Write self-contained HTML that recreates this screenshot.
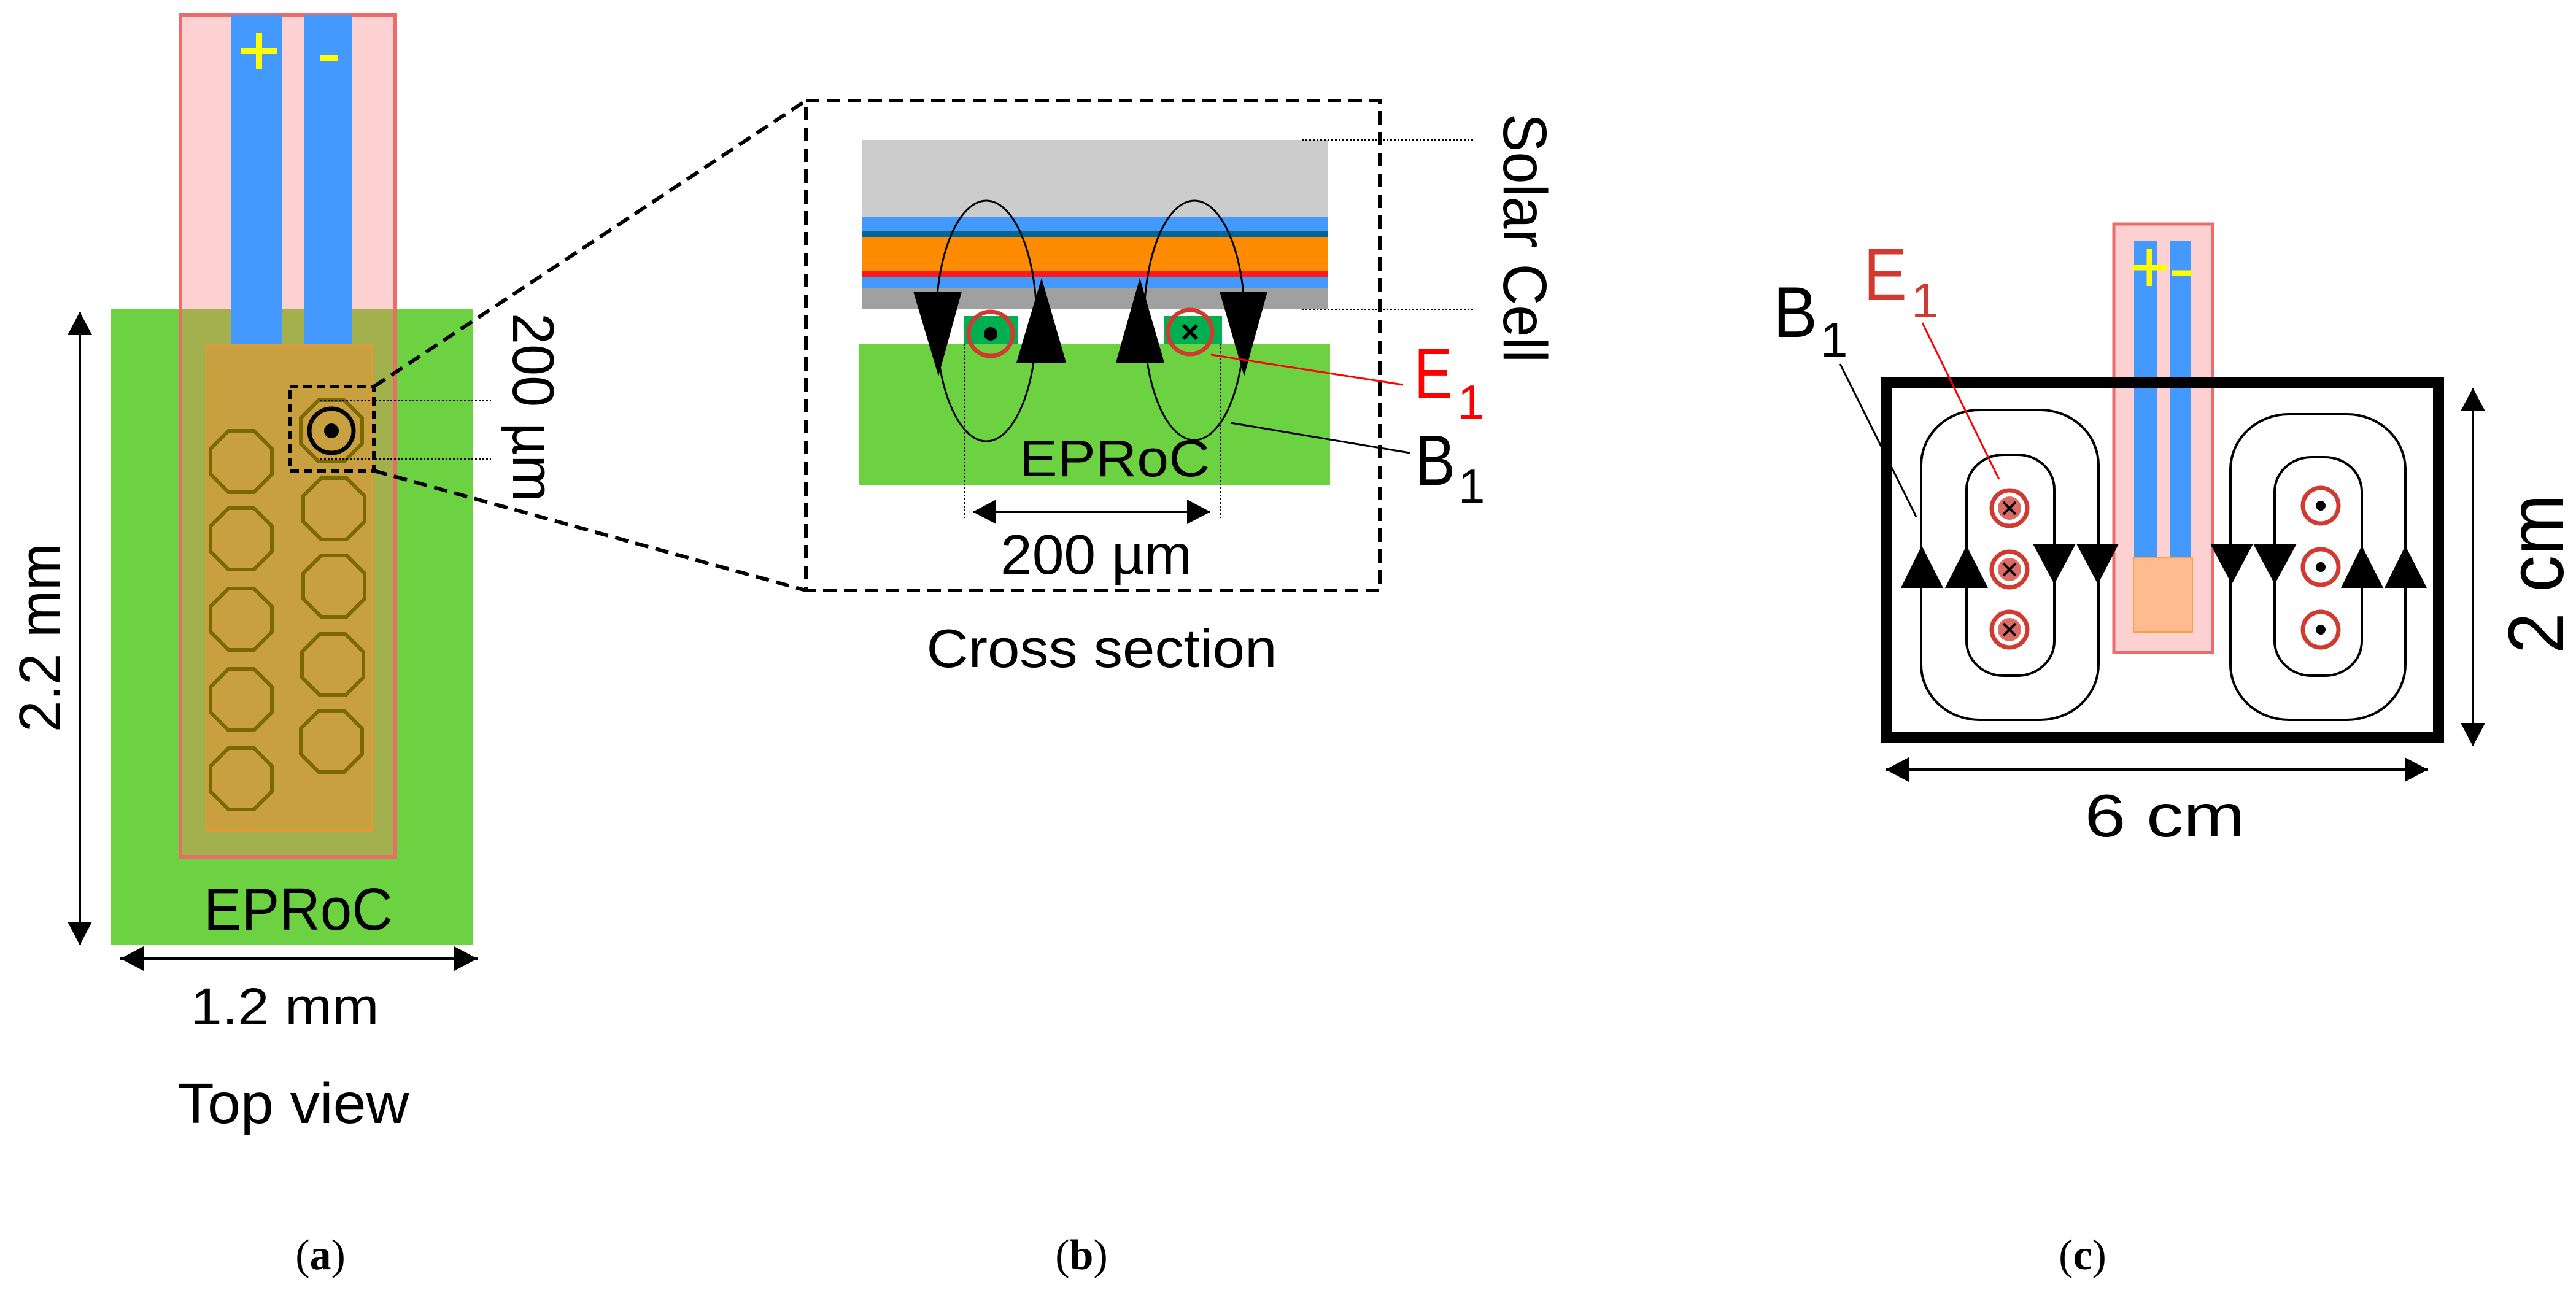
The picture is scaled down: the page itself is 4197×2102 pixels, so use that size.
<!DOCTYPE html>
<html><head><meta charset="utf-8"><style>html,body{margin:0;padding:0;background:#fff}svg{display:block}</style></head>
<body>
<svg width="4197" height="2102" viewBox="0 0 4197 2102" xmlns="http://www.w3.org/2000/svg" font-family="Liberation Sans, Arial, sans-serif">
<defs>
<marker id="ah" viewBox="0 0 10 10" refX="10" refY="5" markerWidth="38" markerHeight="40" markerUnits="userSpaceOnUse" orient="auto-start-reverse" preserveAspectRatio="none"><path d="M0,0L10,5L0,10z"/></marker>
<polygon id="oct" points="-20.7,-50 20.7,-50 50,-20.7 50,20.7 20.7,50 -20.7,50 -50,20.7 -50,-20.7" fill="none" stroke="#7a6800" stroke-width="6"/>
</defs>
<rect width="4197" height="2102" fill="#fff"/>

<!-- PANEL A -->
<rect x="181" y="504" width="589" height="1036" fill="#6cd241"/>
<rect x="294" y="24" width="350" height="480" fill="#fdd0d2"/>
<rect x="294" y="504" width="350" height="893" fill="#a3b04e"/>
<rect x="294" y="24" width="350" height="1373" fill="none" stroke="#ec6b6b" stroke-width="6"/>
<rect x="377" y="24" width="82" height="536" fill="#4499ff"/>
<rect x="496" y="24" width="78" height="536" fill="#4499ff"/>
<path d="M392,83h60M422,53v60" stroke="#ffff00" stroke-width="10"/>
<path d="M521,94h30" stroke="#ffff00" stroke-width="10"/>
<rect x="336" y="563" width="270" height="791" fill="#c8a040" stroke="#e89830" stroke-width="3"/>
<use href="#oct" x="393" y="752"/><use href="#oct" x="393" y="878"/><use href="#oct" x="393" y="1009"/><use href="#oct" x="393" y="1140"/><use href="#oct" x="393" y="1269"/>
<use href="#oct" x="540" y="702"/><use href="#oct" x="544" y="829"/><use href="#oct" x="544" y="955"/><use href="#oct" x="542" y="1083"/><use href="#oct" x="540" y="1208"/>
<circle cx="540" cy="702" r="36" fill="none" stroke="#000" stroke-width="7"/>
<circle cx="540" cy="702" r="12" fill="#000"/>
<rect x="472" y="630" width="137" height="137" fill="none" stroke="#000" stroke-width="6" stroke-dasharray="14,8"/>
<line x1="522" y1="653" x2="800" y2="653" stroke="#000" stroke-width="2" stroke-dasharray="3,3"/>
<line x1="522" y1="748" x2="800" y2="748" stroke="#000" stroke-width="2" stroke-dasharray="3,3"/>
<line x1="609" y1="630" x2="1313" y2="164" stroke="#000" stroke-width="6" stroke-dasharray="22,12"/>
<line x1="609" y1="767" x2="1313" y2="962" stroke="#000" stroke-width="6" stroke-dasharray="22,12"/>
<text transform="translate(836,664) rotate(90)" font-size="96" text-anchor="middle" textLength="308" lengthAdjust="spacingAndGlyphs">200 µm</text>
<line x1="130" y1="508" x2="130" y2="1540" stroke="#000" stroke-width="4" marker-start="url(#ah)" marker-end="url(#ah)"/>
<text transform="translate(98,1039) rotate(-90)" font-size="96" text-anchor="middle" textLength="308" lengthAdjust="spacingAndGlyphs">2.2 mm</text>
<text x="486" y="1515" font-size="97" text-anchor="middle" textLength="308" lengthAdjust="spacingAndGlyphs">EPRoC</text>
<line x1="196" y1="1562" x2="778" y2="1562" stroke="#000" stroke-width="4" marker-start="url(#ah)" marker-end="url(#ah)"/>
<text x="464" y="1669" font-size="84" text-anchor="middle" textLength="307" lengthAdjust="spacingAndGlyphs">1.2 mm</text>
<text x="478" y="1830" font-size="93" text-anchor="middle" textLength="377" lengthAdjust="spacingAndGlyphs">Top view</text>

<!-- PANEL B -->
<rect x="1313" y="164" width="935" height="798" fill="none" stroke="#000" stroke-width="6" stroke-dasharray="22,12"/>
<rect x="1404" y="228" width="759" height="125" fill="#cccccc"/>
<rect x="1404" y="353" width="759" height="24" fill="#4499ff"/>
<rect x="1404" y="377" width="759" height="9" fill="#006699"/>
<rect x="1404" y="386" width="759" height="56" fill="#ff8c00"/>
<rect x="1404" y="442" width="759" height="9" fill="#ff1a1a"/>
<rect x="1404" y="451" width="759" height="18" fill="#4499ff"/>
<rect x="1404" y="469" width="759" height="35" fill="#a0a0a0"/>
<rect x="1400" y="560" width="767" height="230" fill="#6cd241"/>
<rect x="1571" y="515" width="87" height="45" fill="#00b050"/>
<rect x="1897" y="515" width="94" height="45" fill="#00b050"/>
<circle cx="1614" cy="544" r="36" fill="none" stroke="#d03a30" stroke-width="7"/>
<circle cx="1614" cy="544" r="11" fill="#000"/>
<circle cx="1939" cy="541" r="36" fill="none" stroke="#d03a30" stroke-width="7"/>
<path d="M1928,530l22,22M1950,530l-22,22" stroke="#000" stroke-width="6"/>
<ellipse cx="1607" cy="523" rx="82" ry="196" fill="none" stroke="#000" stroke-width="3"/>
<ellipse cx="1946" cy="522" rx="82" ry="195" fill="none" stroke="#000" stroke-width="3"/>
<polygon points="1488,475 1567,475 1529,613"/>
<polygon points="1656,591 1737,591 1697,453"/>
<polygon points="1818,591 1897,591 1857,453"/>
<polygon points="1987,475 2065,475 2027,613"/>
<line x1="1571" y1="560" x2="1571" y2="844" stroke="#000" stroke-width="2" stroke-dasharray="3,3"/>
<line x1="1989" y1="560" x2="1989" y2="844" stroke="#000" stroke-width="2" stroke-dasharray="3,3"/>
<line x1="1585" y1="834" x2="1972" y2="834" stroke="#000" stroke-width="4" marker-start="url(#ah)" marker-end="url(#ah)"/>
<text x="1786" y="935" font-size="91" text-anchor="middle" textLength="312" lengthAdjust="spacingAndGlyphs">200 µm</text>
<text x="1816" y="776" font-size="84" text-anchor="middle" textLength="311" lengthAdjust="spacingAndGlyphs">EPRoC</text>
<line x1="2121" y1="228" x2="2402" y2="228" stroke="#000" stroke-width="2" stroke-dasharray="3,3"/>
<line x1="2121" y1="504" x2="2402" y2="504" stroke="#000" stroke-width="2" stroke-dasharray="3,3"/>
<text transform="translate(2450,388) rotate(90)" font-size="100" text-anchor="middle" textLength="406" lengthAdjust="spacingAndGlyphs">Solar Cell</text>
<line x1="1973" y1="578" x2="2286" y2="627" stroke="#ff0000" stroke-width="3"/>
<text x="2304" y="649" font-size="118" fill="#ff0000" textLength="62" lengthAdjust="spacingAndGlyphs">E</text>
<text x="2375" y="682" font-size="78" fill="#ff0000">1</text>
<line x1="2005" y1="689" x2="2297" y2="738" stroke="#000" stroke-width="3"/>
<text x="2306" y="790" font-size="116" textLength="65" lengthAdjust="spacingAndGlyphs">B</text>
<text x="2376" y="819" font-size="78">1</text>
<text x="1795" y="1087" font-size="88" text-anchor="middle" textLength="571" lengthAdjust="spacingAndGlyphs">Cross section</text>

<!-- PANEL C -->
<rect x="3444" y="365" width="161" height="698" fill="#fdd0d2" stroke="#ec6b6b" stroke-width="5"/>
<rect x="3477" y="393" width="37" height="516" fill="#4499ff"/>
<rect x="3535" y="393" width="35" height="516" fill="#4499ff"/>
<rect x="3476" y="909" width="96" height="121" fill="#ffbb90" stroke="#ffa040" stroke-width="2"/>
<path d="M3473,436h58M3502,406v60" stroke="#ffff00" stroke-width="9"/>
<path d="M3538,445h34" stroke="#ffff00" stroke-width="9"/>
<rect x="3074" y="623" width="899" height="578" fill="none" stroke="#000" stroke-width="18"/>
<rect x="3130" y="668" width="289" height="505" rx="95" ry="90" fill="none" stroke="#000" stroke-width="4"/>
<rect x="3204" y="741" width="143" height="360" rx="60" ry="56" fill="none" stroke="#000" stroke-width="4"/>
<rect x="3634" y="675" width="285" height="498" rx="95" ry="90" fill="none" stroke="#000" stroke-width="4"/>
<rect x="3706" y="745" width="142" height="356" rx="60" ry="56" fill="none" stroke="#000" stroke-width="4"/>
<polygon points="3097,958 3166,958 3131,889"/>
<polygon points="3169,958 3239,958 3204,889"/>
<polygon points="3312,886 3382,886 3347,952"/>
<polygon points="3383,886 3452,886 3418,952"/>
<polygon points="3601,886 3671,886 3636,952"/>
<polygon points="3671,886 3742,886 3706,952"/>
<polygon points="3814,958 3883,958 3848,889"/>
<polygon points="3885,958 3954,958 3919,889"/>
<g fill="none" stroke="#d03a30" stroke-width="7">
<circle cx="3274" cy="828" r="29"/><circle cx="3274" cy="928" r="29"/><circle cx="3274" cy="1026" r="29"/>
<circle cx="3781" cy="824" r="29"/><circle cx="3781" cy="924" r="29"/><circle cx="3781" cy="1026" r="29"/>
</g>
<g fill="#d03a30" opacity="0.75"><circle cx="3274" cy="828" r="19"/><circle cx="3274" cy="928" r="19"/><circle cx="3274" cy="1026" r="19"/></g>
<g stroke="#000" stroke-width="4"><path d="M3264,818l20,20M3284,818l-20,20M3264,918l20,20M3284,918l-20,20M3264,1016l20,20M3284,1016l-20,20"/></g>
<g fill="#000"><circle cx="3781" cy="824" r="8"/><circle cx="3781" cy="924" r="8"/><circle cx="3781" cy="1026" r="8"/></g>
<line x1="3132" y1="526" x2="3257" y2="781" stroke="#ff0000" stroke-width="3"/>
<text x="3036" y="489" font-size="122" fill="#d03a30" textLength="71" lengthAdjust="spacingAndGlyphs">E</text>
<text x="3114" y="517" font-size="80" fill="#d03a30">1</text>
<line x1="2998" y1="593" x2="3122" y2="842" stroke="#000" stroke-width="3"/>
<text x="2889" y="549" font-size="117" textLength="72" lengthAdjust="spacingAndGlyphs">B</text>
<text x="2966" y="581" font-size="80">1</text>
<line x1="4029" y1="632" x2="4029" y2="1216" stroke="#000" stroke-width="4" marker-start="url(#ah)" marker-end="url(#ah)"/>
<text transform="translate(4176,935) rotate(-90)" font-size="128" text-anchor="middle" textLength="260" lengthAdjust="spacingAndGlyphs">2 cm</text>
<line x1="3072" y1="1254" x2="3956" y2="1254" stroke="#000" stroke-width="4" marker-start="url(#ah)" marker-end="url(#ah)"/>
<text x="3527" y="1363" font-size="98" text-anchor="middle" textLength="261" lengthAdjust="spacingAndGlyphs">6 cm</text>

<!-- labels -->
<g font-family="Liberation Serif, serif" font-size="70" text-anchor="middle">
<text x="522" y="2068">(<tspan font-weight="bold">a</tspan>)</text>
<text x="1762" y="2068">(<tspan font-weight="bold">b</tspan>)</text>
<text x="3393" y="2068">(<tspan font-weight="bold">c</tspan>)</text>
</g>
</svg>
</body></html>
